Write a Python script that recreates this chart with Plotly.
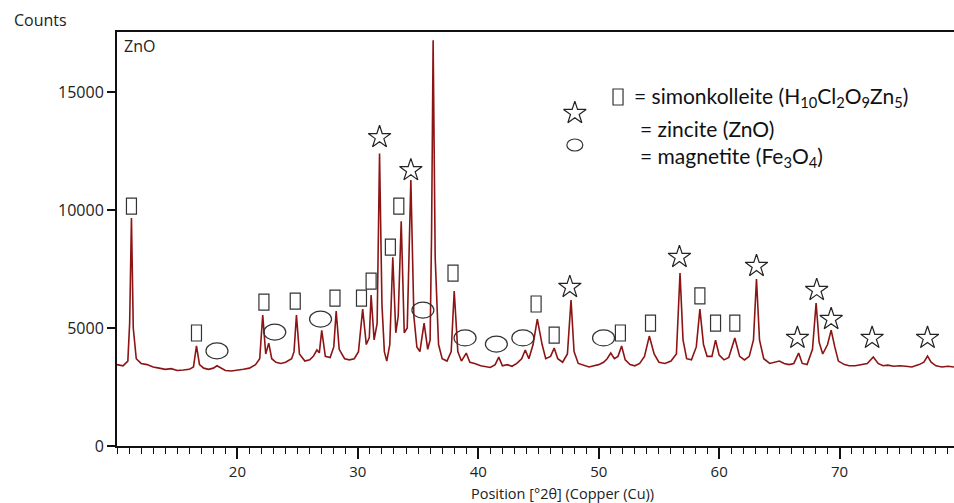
import plotly.graph_objects as go

# ---- diffraction pattern (2theta in degrees, counts) ----
two_theta = [10.0, 10.5, 10.9, 11.05, 11.2, 11.35, 11.6, 12.0, 12.5, 13.0, 13.5, 14.0, 14.5, 15.0, 15.5, 16.0,
             16.35, 16.6, 16.85, 17.2, 17.6, 18.0, 18.3, 18.6, 19.0, 19.5, 20.0, 20.5, 21.0, 21.5, 21.85,
             22.1, 22.35, 22.6, 22.85, 23.2, 23.6, 24.0, 24.5, 24.7, 24.9, 25.15, 25.6, 26.0, 26.3, 26.6,
             26.8, 27.0, 27.3, 27.7, 28.0, 28.2, 28.45, 28.9, 29.3, 29.7, 30.05, 30.4, 30.7, 30.95, 31.1,
             31.35, 31.6, 31.8, 32.0, 32.2, 32.4, 32.65, 32.9, 33.15, 33.35, 33.6, 33.85, 34.1, 34.4, 34.65,
             34.9, 35.15, 35.5, 35.8, 36.0, 36.12, 36.25, 36.42, 36.7, 37.0, 37.4, 37.75, 38.0, 38.3, 38.6,
             39.0, 39.3, 39.7, 40.2, 40.6, 41.0, 41.4, 41.7, 42.0, 42.4, 42.8, 43.2, 43.6, 43.9, 44.2,
             44.55, 44.9, 45.3, 45.6, 46.0, 46.3, 46.6, 47.0, 47.4, 47.7, 47.95, 48.3, 48.8, 49.2, 49.6,
             50.0, 50.4, 50.7, 51.0, 51.3, 51.6, 51.9, 52.2, 52.6, 53.0, 53.4, 53.8, 54.2, 54.6, 55.0,
             55.5, 56.0, 56.45, 56.75, 57.0, 57.3, 57.7, 58.1, 58.4, 58.7, 59.0, 59.4, 59.7, 60.0, 60.4,
             60.8, 61.3, 61.7, 62.1, 62.5, 62.85, 63.1, 63.35, 63.7, 64.2, 64.6, 65.0, 65.4, 65.8, 66.2,
             66.6, 66.9, 67.3, 67.75, 68.05, 68.3, 68.6, 69.0, 69.3, 69.6, 69.9, 70.4, 70.8, 71.3, 71.8,
             72.3, 72.8, 73.2, 73.6, 74.0, 74.5, 75.0, 75.5, 76.0, 76.6, 77.0, 77.3, 77.6, 78.0, 78.5,
             79.0, 79.5]
counts = [3450, 3400, 3600, 5200, 9660, 5000, 3700, 3500, 3450, 3350, 3300, 3250, 3280, 3200, 3220, 3250,
          3350, 4240, 3450, 3300, 3250, 3300, 3400, 3300, 3200, 3180, 3200, 3250, 3300, 3450, 3700,
          5550, 3900, 4360, 3700, 3550, 3500, 3550, 3700, 4000, 5550, 3900, 3600, 3650, 3800, 4070,
          3950, 4900, 3800, 3750, 4200, 5720, 4100, 3700, 3650, 3700, 4000, 5800, 4300, 4600, 6400,
          4500, 5200, 12400, 6000, 4000, 3600, 4300, 8000, 4800, 5500, 9530, 4800, 5000, 11270, 5500,
          4200, 4000, 5210, 4100, 4500, 9000, 17200, 8000, 4300, 3700, 3600, 4000, 6570, 4000, 3600,
          3940, 3550, 3500, 3400, 3350, 3330, 3450, 3770, 3400, 3450, 3380, 3500, 3700, 4070, 3700,
          4300, 5380, 4300, 3700, 3800, 4150, 3700, 3550, 3900, 6190, 4000, 3500, 3400, 3350, 3400,
          3450, 3550, 3700, 3940, 3700, 3800, 4240, 3650, 3450, 3400, 3500, 3800, 4660, 3900, 3550,
          3500, 3600, 3900, 7330, 4500, 3700, 3650, 4200, 5800, 4300, 3800, 3800, 4490, 3850, 3650,
          3750, 4580, 3800, 3650, 3800, 4500, 7080, 4500, 3700, 3500, 3550, 3600, 3500, 3450, 3500,
          3940, 3500, 3450, 4100, 6060, 4400, 3900, 4300, 4910, 4200, 3600, 3450, 3400, 3400, 3450,
          3500, 3770, 3500, 3400, 3430, 3380, 3400, 3380, 3350, 3450, 3550, 3810, 3550, 3400, 3350,
          3380, 3350]

# ---- phase marker positions (2theta, counts) ----
simon_x = [11.2, 16.6, 22.2, 24.8, 28.1, 30.3, 31.1, 32.7, 33.4, 37.9, 44.8, 46.3, 51.8, 54.3, 58.4, 59.7, 61.3]
simon_y = [10170, 4790, 6100, 6140, 6270, 6270, 6990, 8430, 10170, 7330, 6020, 4700, 4790, 5210, 6360, 5210, 5210]
zinc_x = [31.8, 34.4, 36.3, 47.6, 56.7, 63.1, 66.5, 68.1, 69.3, 72.7, 77.3]
zinc_y = [13090, 11690, 17670, 6740, 8010, 7630, 4580, 6610, 5380, 4580, 4580]
magn_x = [18.3, 23.1, 26.9, 35.4, 38.9, 41.5, 43.7, 50.4]
magn_y = [4030, 4830, 5380, 5760, 4580, 4320, 4580, 4580]

x_ticks = [20, 30, 40, 50, 60, 70]
y_ticks = [0, 5000, 10000, 15000]
y_tick_labels = ["0", "5000", "10000", "15000"]

TXT = "#222222"
FONT = "Open Sans"

fig = go.Figure()
fig.add_trace(go.Scatter(x=two_theta, y=counts, mode="lines",
                         line=dict(color="#8c1414", width=1.6), hoverinfo="skip", showlegend=False))
fig.add_trace(go.Scatter(x=zinc_x, y=zinc_y, mode="markers",
                         marker=dict(symbol="star-open", size=17, color="#222222", line=dict(width=1.2, color="#222222")),
                         showlegend=False, cliponaxis=False))

shapes = []
for sx, sy in zip(simon_x, simon_y):
    shapes.append(dict(type="rect", xref="x", yref="y", xsizemode="pixel", ysizemode="pixel",
                       xanchor=sx, yanchor=sy, x0=-5, x1=5, y0=-8, y1=8,
                       line=dict(color="#333333", width=1.2), fillcolor="rgba(255,255,255,0)"))
for mx, my in zip(magn_x, magn_y):
    shapes.append(dict(type="circle", xref="x", yref="y", xsizemode="pixel", ysizemode="pixel",
                       xanchor=mx, yanchor=my, x0=-11, x1=11, y0=-8, y1=8,
                       line=dict(color="#333333", width=1.2), fillcolor="rgba(255,255,255,0)"))
# legend symbols
shapes.append(dict(type="rect", xref="paper", yref="paper", xsizemode="pixel", ysizemode="pixel",
                   xanchor=0.5986, yanchor=0.843, x0=-5, x1=5, y0=-8, y1=8,
                   line=dict(color="#333333", width=1.2)))
shapes.append(dict(type="circle", xref="paper", yref="paper", xsizemode="pixel", ysizemode="pixel",
                   xanchor=0.547, yanchor=0.727, x0=-8, x1=8, y0=-6, y1=6,
                   line=dict(color="#333333", width=1.2)))

# legend star on an overlay paper-like axis
fig.add_trace(go.Scatter(x=[0.547], y=[0.804], xaxis="x2", yaxis="y2", mode="markers",
                         marker=dict(symbol="star-open", size=17, color="#222222", line=dict(width=1.2, color="#222222")),
                         showlegend=False, hoverinfo="skip"))

LEG = dict(family="Lato", size=21, color="#111")
annotations = [
    dict(text="= simonkolleite (H<sub>10</sub>Cl<sub>2</sub>O<sub>9</sub>Zn<sub>5</sub>)", xref="paper", yref="paper",
         x=0.615, y=0.843, xanchor="left", yanchor="middle", showarrow=False, font=LEG),
    dict(text="= zincite (ZnO)", xref="paper", yref="paper", x=0.6225, y=0.768, xanchor="left", yanchor="middle",
         showarrow=False, font=LEG),
    dict(text="= magnetite (Fe<sub>3</sub>O<sub>4</sub>)", xref="paper", yref="paper", x=0.6225, y=0.698,
         xanchor="left", yanchor="middle", showarrow=False, font=LEG),
    dict(text="Counts", xref="paper", yref="paper", x=-0.126, y=1.03, xanchor="left", yanchor="middle",
         showarrow=False, font=dict(family=FONT, size=16, color=TXT)),
    dict(text="ZnO", xref="paper", yref="paper", x=0.006, y=0.965, xanchor="left", yanchor="middle",
         showarrow=False, font=dict(family=FONT, size=16, color=TXT)),
    dict(text="Position [°2θ] (Copper (Cu))", xref="paper", yref="paper", x=0.5327, y=-0.114,
         xanchor="center", yanchor="middle", showarrow=False, font=dict(family=FONT, size=14.5, color=TXT)),
]

fig.update_layout(
    width=954, height=503,
    margin=dict(l=117, r=0, t=32, b=57),
    paper_bgcolor="white", plot_bgcolor="white",
    shapes=shapes, annotations=annotations,
    xaxis=dict(range=[10, 79.5], tickvals=x_ticks, ticks="outside", ticklen=11, tickwidth=1.5, tickcolor="#111",
               minor=dict(dtick=1, tick0=0, ticks="outside", ticklen=6, tickwidth=1.2, tickcolor="#111"),
               showline=True, linecolor="#111", linewidth=2, mirror=True, showgrid=False, zeroline=False,
               tickfont=dict(family=FONT, size=15, color=TXT)),
    yaxis=dict(range=[0, 17550], tickvals=y_ticks, ticktext=y_tick_labels, ticks="outside", ticklen=8,
               tickwidth=1.5, tickcolor="#111",
               showline=True, linecolor="#111", linewidth=2, showgrid=False, zeroline=False,
               tickfont=dict(family=FONT, size=16, color=TXT)),
    xaxis2=dict(range=[0, 1], overlaying="x", visible=False, fixedrange=True),
    yaxis2=dict(range=[0, 1], overlaying="y", visible=False, fixedrange=True),
)

fig.write_html("out.html", config={"displayModeBar": False},
               post_script="document.body.style.margin='0';document.body.style.padding='0';")
